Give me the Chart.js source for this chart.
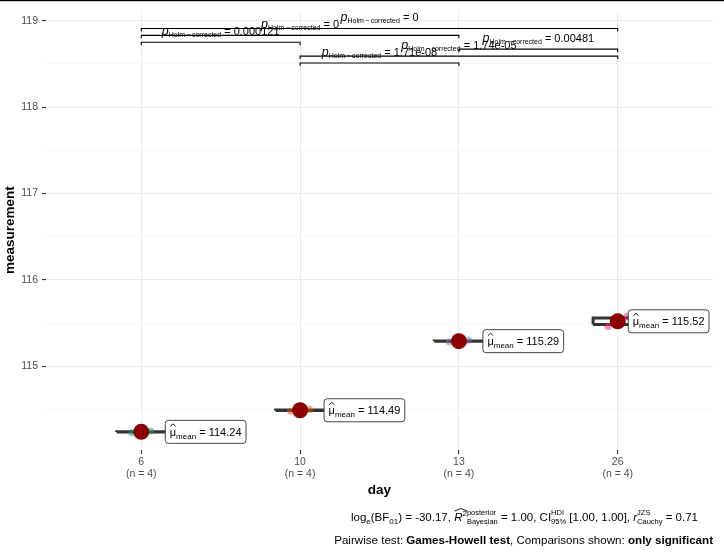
<!DOCTYPE html>
<html>
<head>
<meta charset="utf-8">
<script src="https://cdn.jsdelivr.net/npm/chart.js@4.4.1/dist/chart.umd.min.js"></script>
<style>
  html, body { margin: 0; padding: 0; background: #fff; }
</style>
</head>
<body>
<canvas id="chart" width="724" height="556"></canvas>
<script>
// data
const days = ['6', '10', '13', '26'];
const counts = [4, 4, 4, 4];
const day6 = [114.23, 114.24, 114.24, 114.25];
const day10 = [114.48, 114.49, 114.49, 114.50];
const day13 = [115.28, 115.29, 115.29, 115.30];
const day26 = [115.46, 115.49, 115.55, 115.58];
const means = [114.24, 114.49, 115.29, 115.52];
const yTicks = [114.5, 115, 115.5, 116, 116.5, 117, 117.5, 118, 118.5, 119];

// pairwise comparisons (Games-Howell), from top bracket to bottom
const pairs = [[0, 3], [0, 2], [0, 1], [2, 3], [1, 3], [1, 2]];
const pairLevels = [118.91, 118.83, 118.75, 118.67, 118.59, 118.51];
const pValues = ['0', '0', '0.000121', '0.00481', '1.74e-05', '1.71e-08'];

const measurements = [day6, day10, day13, day26];
const pointColors = ['rgba(27,158,119,0.5)', 'rgba(217,95,2,0.5)', 'rgba(117,112,179,0.5)', 'rgba(231,41,138,0.5)'];
const jitter = [-0.06, -0.02, 0.03, 0.06];
const boxHalf = 0.155;
const fam = '"Liberation Sans", Arial, Helvetica, sans-serif';

function quantile(vals, p) {
    const s = vals.slice().sort((a, b) => a - b);
    const h = (s.length - 1) * p;
    const lo = Math.floor(h);
    return s[lo] + (h - lo) * ((s[lo + 1] !== undefined ? s[lo + 1] : s[lo]) - s[lo]);
}

function fontStr(r) {
    return (r.italic ? 'italic ' : '') + (r.bold ? 'bold ' : '') + r.size + 'px ' + fam;
}

function runWidth(ctx, r) {
    ctx.font = fontStr(r);
    if (r.stack) return Math.max(ctx.measureText(r.stack[0]).width, ctx.measureText(r.stack[1]).width);
    return ctx.measureText(r.t).width;
}

// draws a list of text pieces with sub/superscripts, returns total width
function drawRich(ctx, runs, x, y, align) {
    const widths = runs.map(r => runWidth(ctx, r));
    const total = widths.reduce((a, b) => a + b, 0);
    let cx = align === 'right' ? x - total : align === 'center' ? x - total / 2 : x;
    ctx.save();
    ctx.textAlign = 'left';
    ctx.textBaseline = 'alphabetic';
    ctx.fillStyle = '#000';
    runs.forEach((r, i) => {
        ctx.font = fontStr(r);
        if (r.stack) {
            ctx.fillText(r.stack[0], cx, y - r.up);
            ctx.fillText(r.stack[1], cx, y + r.down);
        } else {
            ctx.fillText(r.t, cx, y + (r.dy || 0));
        }
        if (r.hat) {
            const hw = r.hat.w || widths[i];
            const hy = y - r.hat.h;
            ctx.beginPath();
            ctx.moveTo(cx + 0.5, hy + 2.5);
            ctx.lineTo(cx + hw / 2, hy);
            ctx.lineTo(cx + hw - 0.5, hy + 2.5);
            ctx.lineWidth = 0.9;
            ctx.strokeStyle = '#000';
            ctx.stroke();
        }
        cx += widths[i];
    });
    ctx.restore();
    return total;
}

function measureRich(ctx, runs) {
    return runs.map(r => runWidth(ctx, r)).reduce((a, b) => a + b, 0);
}

const annotations = {
    id: 'annotations',
    afterDatasetsDraw(chart) {
        const ctx = chart.ctx;
        const xs = chart.scales.x, ys = chart.scales.y;
        const area = chart.chartArea;

        // significance brackets
        ctx.save();
        ctx.strokeStyle = '#000';
        ctx.lineWidth = 1.1;
        pairs.forEach((p, k) => {
            const x1 = xs.getPixelForValue(p[0] + 1);
            const x2 = xs.getPixelForValue(p[1] + 1);
            const yy = ys.getPixelForValue(pairLevels[k]);
            ctx.beginPath();
            ctx.moveTo(x1, yy + 3);
            ctx.lineTo(x1, yy);
            ctx.lineTo(x2, yy);
            ctx.lineTo(x2, yy + 3);
            ctx.stroke();
            drawRich(ctx, [
                { t: 'p', size: 12.5, italic: true },
                { t: 'Holm\u2009\u2212\u2009corrected', size: 7, dy: 2 },
                { t: ' = ' + pValues[k], size: 11 }
            ], (x1 + x2) / 2, yy - 7, 'center');
        });
        ctx.restore();

        // mean labels
        means.forEach((m, i) => {
            const px = xs.getPixelForValue(i + 1);
            const py = ys.getPixelForValue(m);
            const runs = [
                { t: '\u03bc', size: 11, hat: { h: 12 } },
                { t: 'mean', size: 8, dy: 3 },
                { t: ' = ' + m.toFixed(2), size: 11 }
            ];
            const w = measureRich(ctx, runs) + 9;
            const h = 23;
            let bx = px + 24;
            if (bx + w > area.right - 4) bx = area.right - 4 - w;
            const by = py - h / 2;
            ctx.save();
            ctx.beginPath();
            ctx.roundRect(bx, by, w, h, 3);
            ctx.fillStyle = '#fff';
            ctx.fill();
            ctx.strokeStyle = '#333';
            ctx.lineWidth = 0.9;
            ctx.stroke();
            ctx.restore();
            drawRich(ctx, runs, bx + 4.5, py + 4, 'left');
        });
    },
    afterDraw(chart) {
        const ctx = chart.ctx;
        ctx.save();
        ctx.fillStyle = '#000';
        ctx.fillRect(0, 0, chart.width, 1.2);
        ctx.restore();

        drawRich(ctx, [
            { t: 'log', size: 11.5 }, { t: 'e', size: 8, dy: 3 },
            { t: '(BF', size: 11.5 }, { t: '01', size: 8, dy: 3 },
            { t: ') = -30.17, ', size: 11.5 },
            { t: 'R', size: 11.5, italic: true, hat: { h: 12.5, w: 13.5 } },
            { t: '2', size: 8, dy: -5 },
            { stack: ['posterior', 'Bayesian'], size: 7.5, up: 6, down: 3 },
            { t: ' = 1.00, CI', size: 11.5 },
            { stack: ['HDI', '95%'], size: 7.5, up: 6, down: 3 },
            { t: ' [1.00, 1.00], ', size: 11.5 },
            { t: 'r', size: 11.5, italic: true },
            { stack: ['JZS', 'Cauchy'], size: 7.5, up: 6, down: 3 },
            { t: ' = 0.71', size: 11.5 }
        ], 698, 521, 'right');

        drawRich(ctx, [
            { t: 'Pairwise test: ', size: 11.6 },
            { t: 'Games-Howell test', size: 11.6, bold: true },
            { t: ', Comparisons shown: ', size: 11.6 },
            { t: 'only significant', size: 11.6, bold: true }
        ], 713, 544, 'right');
    }
};

const boxSets = measurements.map((vals, i) => {
    const q1 = quantile(vals, 0.25), q3 = quantile(vals, 0.75);
    const c = i + 1;
    return {
        type: 'line',
        data: [
            { x: c - boxHalf, y: q1 }, { x: c + boxHalf, y: q1 },
            { x: c + boxHalf, y: q3 }, { x: c - boxHalf, y: q3 },
            { x: c - boxHalf, y: q1 }
        ],
        borderColor: '#333333',
        borderWidth: 3,
        pointRadius: 0,
        fill: false,
        order: 3
    };
});

const jitterSets = measurements.map((vals, i) => ({
    type: 'scatter',
    data: vals.map((v, j) => ({ x: i + 1 + jitter[j], y: v })),
    backgroundColor: pointColors[i],
    borderWidth: 0,
    pointRadius: 3.5,
    order: 2
}));

const meanSet = {
    type: 'scatter',
    data: means.map((m, i) => ({ x: i + 1, y: m })),
    backgroundColor: '#8B0000',
    borderWidth: 0,
    pointRadius: 8,
    order: 1
};

const isMajor = v => Math.abs(v - Math.round(v)) < 1e-9;

new Chart(document.getElementById('chart'), {
    type: 'scatter',
    data: { datasets: [meanSet, ...jitterSets, ...boxSets] },
    options: {
        responsive: false,
        animation: false,
        devicePixelRatio: 1,
        layout: { padding: { top: 9, right: 11, left: 0, bottom: 56 } },
        plugins: { legend: { display: false }, tooltip: { enabled: false } },
        scales: {
            x: {
                type: 'linear',
                min: 0.4,
                max: 4.6,
                afterBuildTicks: s => { s.ticks = days.map((d, i) => ({ value: i + 1 })); },
                afterFit: s => { s.height = 50; },
                ticks: {
                    autoSkip: false,
                    maxRotation: 0,
                    callback: (v, i) => [days[i], '(n = ' + counts[i] + ')'],
                    color: '#4D4D4D',
                    font: { size: 10.5, family: fam },
                    padding: 1.5
                },
                grid: { color: '#EBEBEB', lineWidth: 1.1, tickLength: 4, tickColor: '#333' },
                border: { display: false },
                title: {
                    display: true, text: 'day', color: '#000',
                    font: { size: 13.5, weight: 'bold', family: fam },
                    padding: { top: 2, bottom: 2 }
                }
            },
            y: {
                type: 'linear',
                min: 114.03,
                max: 119.12,
                afterBuildTicks: s => { s.ticks = yTicks.map(v => ({ value: v })); },
                afterFit: s => { s.width = 46; },
                ticks: {
                    callback: v => isMajor(v) ? String(v) : '',
                    color: '#4D4D4D',
                    font: { size: 10.5, family: fam },
                    padding: 4
                },
                grid: {
                    color: c => isMajor(c.tick.value) ? '#EBEBEB' : '#F3F3F3',
                    lineWidth: c => isMajor(c.tick.value) ? 1.1 : 0.7,
                    tickLength: 4,
                    tickColor: c => isMajor(c.tick.value) ? '#333' : 'rgba(0,0,0,0)'
                },
                border: { display: false },
                title: {
                    display: true, text: 'measurement', color: '#000',
                    font: { size: 13.5, weight: 'bold', family: fam },
                    padding: { top: 2, bottom: 0 }
                }
            }
        }
    },
    plugins: [annotations]
});
</script>
</body>
</html>
